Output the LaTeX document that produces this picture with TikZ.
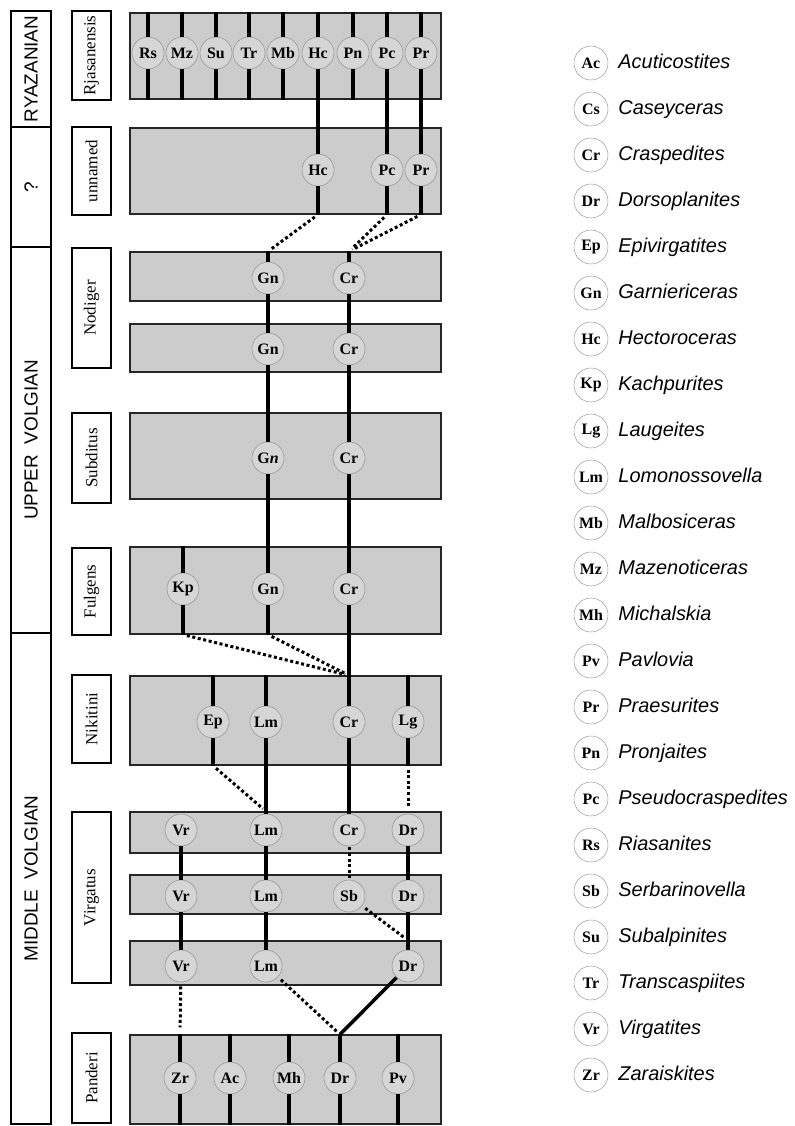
\documentclass[tikz,border=0pt]{standalone}
\usepackage{fontspec}
\setmainfont{Liberation Serif}
\setsansfont{Liberation Sans}
\usetikzlibrary{positioning}

\tikzset{
  stagebox/.style={draw, line width=1.2bp, rotate=90, minimum height=40bp, inner sep=0pt,
    font=\sffamily\fontsize{19}{22}\selectfont},
  zonebox/.style={draw, line width=1.2bp, rotate=90, minimum height=39bp, inner sep=0pt,
    font=\fontsize{17}{20}\selectfont},
  band/.style={draw=black!85, line width=1.2bp, fill=black!20, minimum width=311bp, inner sep=0pt},
  tax/.style={circle, draw=black!40, line width=0.6bp, fill=black!16, minimum size=32bp,
    inner sep=0pt, font=\bfseries\fontsize{16}{18}\selectfont},
  legcirc/.style={circle, draw=black!40, line width=0.5bp, fill=white, minimum size=34bp,
    inner sep=0pt, font=\bfseries\fontsize{16}{18}\selectfont},
  legname/.style={inner sep=0pt, text height=14bp, text depth=4bp,
    font=\sffamily\itshape\fontsize{20}{24}\selectfont},
  link/.style={line width=3.5bp},
  gap/.style={line width=3bp, dash pattern=on 3bp off 2.6bp, shorten <=4bp, shorten >=4bp}
}

\begin{document}
\begin{tikzpicture}[x=1bp, y=-1bp]
\useasboundingbox (0,0) rectangle (795,1126);

\node[stagebox, minimum width=116bp] (ryaz) at (31,69) {RYAZANIAN};
\node[stagebox, minimum width=120bp] (unknown) at (31,187) {?};
\node[stagebox, minimum width=386bp] (upper) at (31,440) {UPPER\ \ VOLGIAN};
\node[stagebox, minimum width=491bp] (middle) at (31,878.5) {MIDDLE\ \ VOLGIAN};

\node[zonebox, minimum width=89bp] (zRja) at (91.5,55.5) {Rjasanensis};
\node[zonebox, minimum width=88bp] (zUnn) at (91.5,171) {unnamed};
\node[zonebox, minimum width=120bp] (zNod) at (91.5,308) {Nodiger};
\node[zonebox, minimum width=90bp] (zSub) at (91.5,458) {Subditus};
\node[zonebox, minimum width=87bp] (zFul) at (91.5,591.5) {Fulgens};
\node[zonebox, minimum width=88bp] (zNik) at (91.5,719) {Nikitini};
\node[zonebox, minimum width=171bp] (zVir) at (91.5,897.5) {Virgatus};
\node[zonebox, minimum width=90bp] (zPan) at (91.5,1078) {Panderi};

\node[band, minimum height=86bp] (bRja) at (285.5,56) {};
\node[band, minimum height=86bp] (bUnn) at (285.5,171) {};
\node[band, minimum height=49bp] (bNodA) at (285.5,276.5) {};
\node[band, minimum height=48bp] (bNodB) at (285.5,348) {};
\node[band, minimum height=86bp] (bSub) at (285.5,456) {};
\node[band, minimum height=87bp] (bFul) at (285.5,590.5) {};
\node[band, minimum height=89bp] (bNik) at (285.5,720.5) {};
\node[band, minimum height=41bp] (bVirA) at (285.5,832.5) {};
\node[band, minimum height=39bp] (bVirB) at (285.5,894.5) {};
\node[band, minimum height=44bp] (bVirC) at (285.5,963) {};
\node[band, minimum height=89bp] (bPan) at (285.5,1079.5) {};

\foreach \ab/\x in {Rs/148,Mz/182,Su/216,Tr/249,Mb/283,Hc/318,Pn/353,Pc/387,Pr/421}{
  \node[tax] (rja\ab) at (\x,53) {\ab};
  \draw[link] (rja\ab.north |- bRja.north) -- (rja\ab);
  \draw[link] (rja\ab) -- (rja\ab.south |- bRja.south);
}
\foreach \ab/\x in {Hc/318,Pc/387,Pr/421}{
  \node[tax] (unn\ab) at (\x,170) {\ab};
  \draw[link] (rja\ab) -- (unn\ab);
  \draw[link] (unn\ab) -- (unn\ab.south |- bUnn.south);
}

\foreach \ab/\x in {Gn/268,Cr/349}{
  \node[tax] (nodA\ab) at (\x,278) {\ab};
  \node[tax] (nodB\ab) at (\x,349) {\ab};
  \draw[link] (nodA\ab.north |- bNodA.north) -- (nodA\ab);
  \draw[link] (nodA\ab) -- (nodB\ab);
}
\draw[gap] (unnHc.south |- bUnn.south) -- (nodAGn.north |- bNodA.north);
\draw[gap] (unnPc.south |- bUnn.south) -- (nodACr.north |- bNodA.north);
\draw[gap] (unnPr.south |- bUnn.south) -- (nodACr.north |- bNodA.north);

\node[tax] (subGn) at (268,458) {G\textit{n}};
\node[tax] (subCr) at (349,458) {Cr};
\draw[link] (nodBGn) -- (subGn);
\draw[link] (nodBCr) -- (subCr);

\node[tax] (fulKp) at (183,589) {Kp};
\node[tax] (fulGn) at (268,589) {Gn};
\node[tax] (fulCr) at (349,589) {Cr};
\draw[link] (fulKp.north |- bFul.north) -- (fulKp);
\draw[link] (fulKp) -- (fulKp.south |- bFul.south);
\draw[link] (subGn) -- (fulGn);
\draw[link] (fulGn) -- (fulGn.south |- bFul.south);
\draw[link] (subCr) -- (fulCr);

\foreach \ab/\x in {Ep/213,Lm/266,Cr/349,Lg/408}{
  \node[tax] (nik\ab) at (\x,722) {\ab};
  \draw[link] (nik\ab.north |- bNik.north) -- (nik\ab);
}
\draw[link] (fulCr) -- (nikCr);
\draw[link] (nikEp) -- (nikEp.south |- bNik.south);
\draw[link] (nikLg) -- (nikLg.south |- bNik.south);
\draw[gap] (fulKp.south |- bFul.south) -- (nikCr.north |- bNik.north);
\draw[gap] (fulGn.south |- bFul.south) -- (nikCr.north |- bNik.north);

\foreach \ab/\x in {Vr/181,Lm/266,Cr/349,Dr/408}
  \node[tax] (virA\ab) at (\x,830) {\ab};
\foreach \ab/\x in {Vr/181,Lm/266,Sb/349,Dr/408}
  \node[tax] (virB\ab) at (\x,896) {\ab};
\foreach \ab/\x in {Vr/181,Lm/266,Dr/408}
  \node[tax] (virC\ab) at (\x,966) {\ab};
\draw[link] (nikLm) -- (virALm);
\draw[link] (nikCr) -- (virACr);
\draw[gap] (nikEp.south |- bNik.south) -- (virALm.north |- bVirA.north);
\draw[gap] (nikLg.south |- bNik.south) -- (virADr.north |- bVirA.north);
\foreach \ab in {Vr,Lm,Dr}{
  \draw[link] (virA\ab) -- (virB\ab);
  \draw[link] (virB\ab) -- (virC\ab);
}
\draw[gap, shorten <=1bp, shorten >=1bp] (virACr) -- (virBSb);
\draw[gap] (virBSb) -- (virCDr.north |- bVirC.north);

\foreach \ab/\x in {Zr/180,Ac/230,Mh/289,Dr/340,Pv/398}{
  \node[tax] (pan\ab) at (\x,1078) {\ab};
  \draw[link] (pan\ab.north |- bPan.north) -- (pan\ab);
  \draw[link] (pan\ab) -- (pan\ab.south |- bPan.south);
}
\draw[gap, shorten >=7bp] (virCVr) -- (panZr.north |- bPan.north);
\draw[gap] (virCLm) -- (panDr.north |- bPan.north);
\draw[link] (virCDr) -- (panDr.north |- bPan.north);

\foreach \ab/\nm [count=\i from 0] in {Ac/Acuticostites,Cs/Caseyceras,Cr/Craspedites,
    Dr/Dorsoplanites,Ep/Epivirgatites,Gn/Garniericeras,Hc/Hectoroceras,Kp/Kachpurites,
    Lg/Laugeites,Lm/Lomonossovella,Mb/Malbosiceras,Mz/Mazenoticeras,Mh/Michalskia,
    Pv/Pavlovia,Pr/Praesurites,Pn/Pronjaites,Pc/Pseudocraspedites,Rs/Riasanites,
    Sb/Serbarinovella,Su/Subalpinites,Tr/Transcaspiites,Vr/Virgatites,Zr/Zaraiskites}{
  \node[legcirc] (leg\ab) at (591,{63+46*\i}) {\ab};
  \node[legname, right=10bp of leg\ab] (legtxt\ab) {\nm};
}

\end{tikzpicture}
\end{document}
